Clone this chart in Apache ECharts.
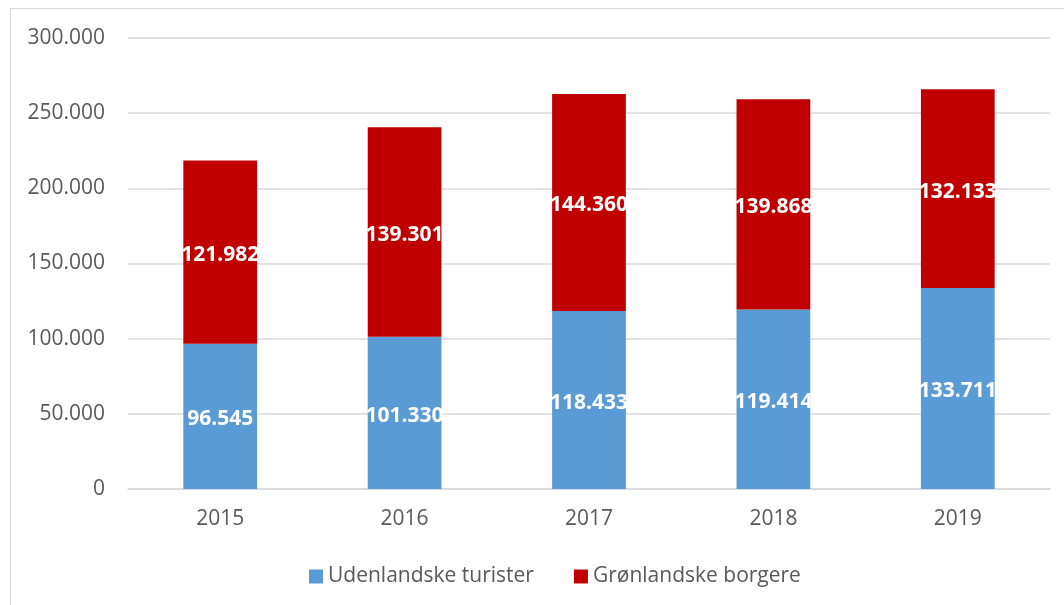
<!DOCTYPE html>
<html>
<head>
<meta charset="utf-8">
<script src="https://cdn.jsdelivr.net/npm/echarts@6/dist/echarts.min.js"></script>
<style>
  html, body { margin: 0; padding: 0; background: #fff; overflow: hidden; }
  #frame {
    position: absolute; left: 10px; top: 8px; width: 1100px; height: 640px;
    border: 1px solid #d9d9d9; box-sizing: border-box;
  }
  #chart { position: absolute; left: 0; top: 0; width: 1064px; height: 605px; }
</style>
</head>
<body>
<div id="frame"></div>
<div id="chart"></div>
<script>
const years = ['2015', '2016', '2017', '2018', '2019']
const foreignTourists = [96545, 101330, 118433, 119414, 133711]
const greenlandCitizens = [121982, 139301, 144360, 139868, 132133]
const seriesNames = ['Udenlandske turister', 'Grønlandske borgere']

const font = '"Open Sans", "Noto Sans", sans-serif'

function fmt(v) {
  return String(Math.round(v)).replace(/\B(?=(\d{3})+(?!\d))/g, '.')
}

const dataLabel = {
  show: true,
  position: 'inside',
  color: '#fff',
  fontWeight: 'bold',
  fontSize: 21,
  fontFamily: font,
  offset: [0, 3],
  formatter: (p) => fmt(p.value),
}

const chart = echarts.init(document.getElementById('chart'))
chart.setOption({
  animation: false,
  grid: { left: 128, right: 14, top: 38, bottom: 116 },
  legend: {
    bottom: 13,
    left: 304,
    itemWidth: 14,
    itemHeight: 14,
    itemGap: 40,
    icon: 'rect',
    textStyle: { color: '#595959', fontSize: 21, fontFamily: font },
    data: seriesNames,
  },
  xAxis: {
    type: 'category',
    data: years,
    axisLine: { lineStyle: { color: '#d9d9d9', width: 1.5 } },
    axisTick: { show: false },
    axisLabel: { color: '#595959', fontSize: 21, fontFamily: font, margin: 20 },
  },
  yAxis: {
    type: 'value',
    min: 0,
    max: 300000,
    interval: 50000,
    axisLine: { show: false },
    axisTick: { show: false },
    splitLine: { lineStyle: { color: '#d9d9d9', width: 1.5 } },
    axisLabel: {
      color: '#595959', fontSize: 21, fontFamily: font, margin: 23,
      formatter: (v) => fmt(v),
    },
  },
  series: [
    {
      name: seriesNames[0],
      type: 'bar',
      stack: 'total',
      barWidth: '40%',
      data: foreignTourists,
      itemStyle: { color: '#5b9bd5' },
      label: dataLabel,
    },
    {
      name: seriesNames[1],
      type: 'bar',
      stack: 'total',
      data: greenlandCitizens,
      itemStyle: { color: '#c00000' },
      label: dataLabel,
    },
  ],
})
</script>
</body>
</html>
